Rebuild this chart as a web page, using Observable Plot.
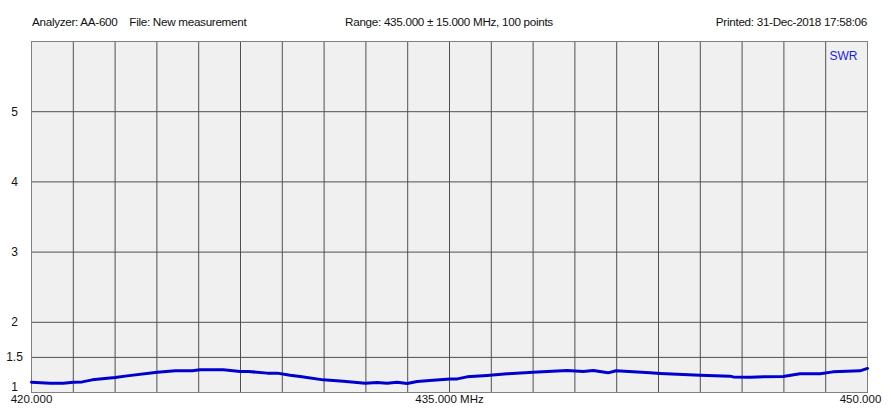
<!DOCTYPE html>
<html>
<head>
<meta charset="utf-8">
<script src="https://cdn.jsdelivr.net/npm/d3@7"></script>
<script src="https://cdn.jsdelivr.net/npm/@observablehq/plot@0.6"></script>
<style>
  html, body { margin: 0; padding: 0; background: #fff; }
  body { width: 891px; height: 420px; overflow: hidden; font-family: "Liberation Sans", Arial, sans-serif; }
  #header { position: relative; height: 30px; font-size: 11.7px; letter-spacing: -0.3px; color: #111; }
  #header span { position: absolute; top: 15px; line-height: 14px; white-space: pre; }
</style>
</head>
<body>
<div id="header">
  <span id="h1" style="left:32px">Analyzer: AA-600    File: New measurement</span>
  <span id="h2" style="left:449px; transform: translateX(-50%)">Range: 435.000 ± 15.000 MHz, 100 points</span>
  <span id="h3" style="right:24px">Printed: 31-Dec-2018 17:58:06</span>
</div>
<div id="chart"></div>
<script>
// Frequency (MHz) and SWR values
const freqs = [420.00, 420.67, 421.14, 421.50, 421.82, 422.18, 423.00, 423.43, 424.51, 425.16,
  425.77, 426.05, 426.88, 427.49, 427.78, 428.46, 428.82, 429.28, 429.64, 430.47,
  431.19, 431.97, 432.40, 432.76, 433.12, 433.48, 433.84, 434.41, 435.02, 435.28,
  435.63, 436.35, 437.07, 438.00, 438.51, 439.22, 439.80, 440.16, 440.69, 440.98,
  442.20, 442.56, 443.99, 445.07, 445.18, 445.79, 446.97, 447.58, 448.30, 448.76,
  449.73, 450.00];
const swr = [1.147, 1.133, 1.133, 1.147, 1.151, 1.18, 1.214, 1.237, 1.29, 1.309,
  1.309, 1.323, 1.323, 1.30, 1.30, 1.276, 1.276, 1.247, 1.229, 1.18,
  1.161, 1.133, 1.143, 1.133, 1.147, 1.129, 1.157, 1.176, 1.194, 1.194,
  1.223, 1.243, 1.266, 1.29, 1.30, 1.314, 1.30, 1.314, 1.28, 1.309,
  1.28, 1.271, 1.247, 1.233, 1.222, 1.219, 1.229, 1.266, 1.266, 1.294,
  1.309, 1.343];
const xGridValues = d3.range(0, 21).map(i => 420 + i * 1.5);
const yGridValues = [1.5, 2, 3, 4, 5];
const yTickLabels = ["1.5", "2", "3", "4", "5"];
const yBottomLabel = "1";
const xTickLabels = ["420.000", "435.000 MHz", "450.000"];
const xTickValues = [420, 435, 450];
const seriesName = "SWR";

const data = freqs.map((f, i) => ({f, s: swr[i]}));
const font = "Liberation Sans, Arial, sans-serif";
const blue = "#0000cc";

const chart = Plot.plot({
  width: 891,
  height: 390,
  marginTop: 11,
  marginLeft: 31,
  marginRight: 24,
  marginBottom: 28,
  style: {fontFamily: font, background: "#fff", overflow: "visible"},
  x: {domain: [420, 450], axis: null},
  y: {domain: [1, 6], axis: null},
  marks: [
    Plot.frame({fill: "#f0f0f0", stroke: "none"}),
    Plot.gridX(xGridValues, {stroke: "#505050", strokeOpacity: 1, strokeWidth: 1}),
    Plot.gridY(yGridValues, {stroke: "#505050", strokeOpacity: 1, strokeWidth: 1}),
    Plot.frame({stroke: "#808080", strokeWidth: 1}),
    Plot.line(data, {x: "f", y: "s", stroke: blue, strokeWidth: 3, strokeLinejoin: "round"}),
    Plot.text(yTickLabels, {y: d => +d, text: d => d, frameAnchor: "left", dx: -17, textAnchor: "middle", fontSize: 12, fill: "#111"}),
    Plot.text([yBottomLabel], {y: d => +d, text: d => d, frameAnchor: "left", dx: -17, dy: -5, textAnchor: "middle", fontSize: 12, fill: "#111"}),
    Plot.text([0, 1], {x: i => xTickValues[i], text: i => xTickLabels[i], frameAnchor: "bottom", dy: 10.5, textAnchor: "middle", fontSize: 11.5, fill: "#111"}),
    Plot.text([2], {x: i => xTickValues[i], text: i => xTickLabels[i], frameAnchor: "bottom", dy: 10.5, dx: -7, textAnchor: "middle", fontSize: 11.5, fill: "#111"}),
    Plot.text([seriesName], {text: d => d, frameAnchor: "top-right", dx: -10, dy: 10, textAnchor: "end", fontSize: 12, fill: "#1a1aee"})
  ]
});
document.getElementById("chart").appendChild(chart);
</script>
</body>
</html>
